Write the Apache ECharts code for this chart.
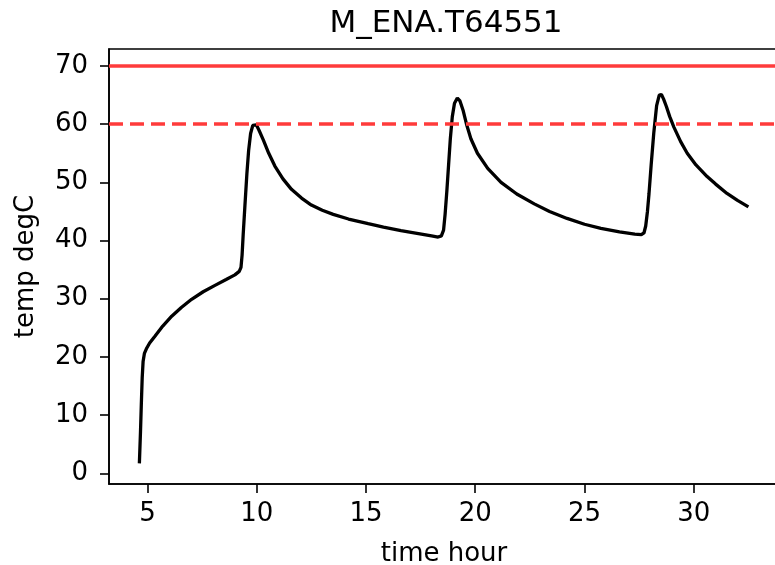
<!DOCTYPE html>
<html>
<head>
<meta charset="utf-8">
<script src="https://cdn.jsdelivr.net/npm/echarts@6/dist/echarts.min.js"></script>
<style>
html,body{margin:0;padding:0;background:#fff;}
#chart{width:775px;height:565px;}
</style>
</head>
<body>
<div id="chart"></div>
<script>
const chartTitle = 'M_ENA.T64551';
const xName = 'time hour';
const yName = 'temp degC';
const xTicks = [5, 10, 15, 20, 25, 30];
const yTicks = [0, 10, 20, 30, 40, 50, 60, 70];
const limitSolid = 70;
const limitDashed = 60;
const timeHour = [4.63,4.68,4.72,4.76,4.80,4.86,4.95,5.10,5.35,5.70,6.11,6.55,7.02,7.55,8.09,8.60,9.00,9.20,9.28,9.33,9.38,9.46,9.55,9.63,9.72,9.82,9.90,9.98,10.10,10.30,10.55,10.83,11.20,11.59,12.05,12.50,13.00,13.50,14.20,15.10,15.80,16.60,17.40,18.00,18.30,18.45,18.55,18.62,18.70,18.78,18.86,18.95,19.05,19.18,19.30,19.45,19.60,19.80,20.10,20.57,21.18,21.90,22.70,23.40,24.20,25.00,25.75,26.60,27.30,27.60,27.72,27.80,27.88,27.95,28.05,28.17,28.30,28.42,28.52,28.62,28.75,28.90,29.09,29.40,29.70,30.10,30.61,31.00,31.52,32.00,32.50];
const tempDegC = [1.7,7.0,12.0,16.5,19.2,20.6,21.4,22.4,23.6,25.3,27.0,28.5,29.9,31.2,32.3,33.3,34.1,34.7,35.4,37.5,41.0,46.0,51.5,55.5,58.4,59.8,60.1,59.9,59.0,57.3,55.0,52.8,50.6,48.8,47.3,46.1,45.2,44.5,43.7,42.9,42.3,41.7,41.2,40.8,40.6,40.8,41.8,44.5,48.5,53.0,57.5,61.3,63.6,64.5,64.0,62.3,60.0,57.5,55.0,52.4,50.0,48.0,46.3,45.0,43.8,42.8,42.1,41.5,41.1,41.0,41.3,42.5,45.0,48.0,53.0,58.5,63.2,65.0,65.1,64.3,63.0,61.3,59.5,57.0,55.0,53.0,51.0,49.7,48.1,46.9,45.8];

const FONT = 'DejaVu Sans';
const chart = echarts.init(document.getElementById('chart'), null, {renderer: 'canvas'});
chart.setOption({
  animation: false,
  backgroundColor: '#fff',
  title: {
    text: chartTitle,
    left: 441,
    textAlign: 'center',
    top: 3,
    textStyle: {fontFamily: FONT, fontSize: 31, fontWeight: 'normal', color: '#000'}
  },
  grid: {
    left: 109, top: 49, width: 670, height: 435,
    containLabel: false,
    outerBoundsMode: 'none',
    show: true, borderColor: '#000', borderWidth: 1.6, backgroundColor: 'transparent'
  },
  xAxis: {
    type: 'value',
    min: 3.24, max: 33.9,
    name: xName,
    nameLocation: 'middle',
    nameGap: 57,
    nameTextStyle: {fontFamily: FONT, fontSize: 26, color: '#000'},
    splitLine: {show: false},
    axisLine: {show: true, onZero: false, lineStyle: {color: '#000', width: 1.6}},
    axisTick: {show: true, length: 9, customValues: xTicks, lineStyle: {color: '#000', width: 1.6}},
    axisLabel: {customValues: xTicks, margin: 17, fontFamily: FONT, fontSize: 26, color: '#000'}
  },
  yAxis: {
    type: 'value',
    min: -1.84, max: 72.92,
    name: yName,
    nameLocation: 'middle',
    nameGap: 70,
    nameTextStyle: {fontFamily: FONT, fontSize: 26, color: '#000'},
    splitLine: {show: false},
    axisLine: {show: true, onZero: false, lineStyle: {color: '#000', width: 1.6}},
    axisTick: {show: true, length: 9, customValues: yTicks, lineStyle: {color: '#000', width: 1.6}},
    axisLabel: {customValues: yTicks, margin: 21, fontFamily: FONT, fontSize: 26, color: '#000'}
  },
  series: [{
    type: 'line',
    data: timeHour.map((t, i) => [t, tempDegC[i]]),
    showSymbol: false,
    symbol: 'none',
    smooth: false,
    lineStyle: {color: '#000', width: 3.3},
    markLine: {
      silent: true,
      symbol: ['none', 'none'],
      label: {show: false},
      data: [
        {yAxis: limitSolid, lineStyle: {color: '#ff3b3b', width: 3.6, type: 'solid'}},
        {yAxis: limitDashed, lineStyle: {color: '#ff3b3b', width: 3.6, type: [14, 7]}}
      ]
    }
  }]
});
</script>
</body>
</html>
